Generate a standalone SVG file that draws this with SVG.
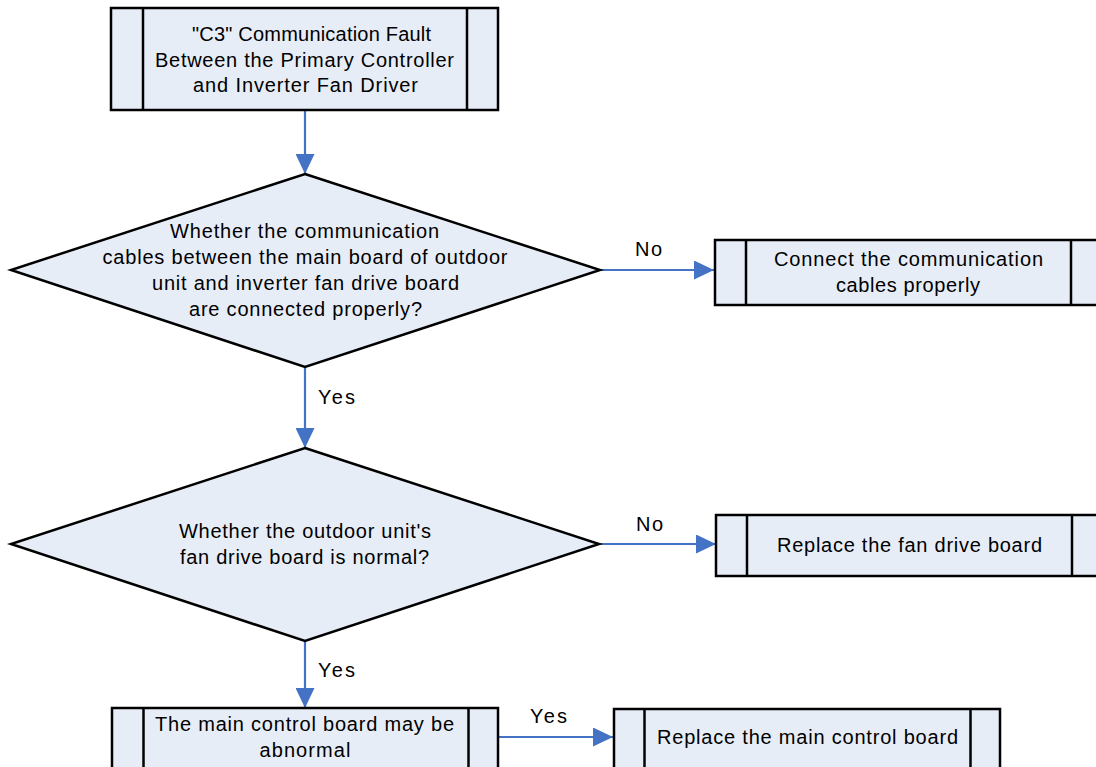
<svg xmlns="http://www.w3.org/2000/svg" width="1096" height="767" viewBox="0 0 1096 767">
<defs>
<style>
.box{fill:#E7EDF7;stroke:#000;stroke-width:2.5}
.div{stroke:#000;stroke-width:2.5}
.t{font-family:"Liberation Sans",Arial,sans-serif;font-size:20px;fill:#000;text-anchor:middle}
.l{font-family:"Liberation Sans",Arial,sans-serif;font-size:20px;fill:#000}
.c{stroke:#4472C4;stroke-width:2.2;fill:none;marker-end:url(#ah)}
</style>
<marker id="ah" markerUnits="userSpaceOnUse" markerWidth="20" markerHeight="19" refX="20" refY="9.5" orient="auto">
<path d="M0,0 L20,9.5 L0,19 Z" fill="#4472C4"/>
</marker>
</defs>
<rect width="1096" height="767" fill="#fff"/>
<g id="connectors">
<line class="c" x1="305" y1="110" x2="305" y2="174"/>
<line class="c" x1="600" y1="270" x2="714" y2="270"/>
<line class="c" x1="305" y1="367" x2="305" y2="448"/>
<line class="c" x1="599" y1="544" x2="716" y2="544"/>
<line class="c" x1="305" y1="641" x2="305" y2="708"/>
<line class="c" x1="498" y1="737" x2="613" y2="737"/>
<text class="l" x="635" y="256" textLength="27" lengthAdjust="spacing">No</text>
<text class="l" x="636" y="531" textLength="27" lengthAdjust="spacing">No</text>
<text class="l" x="318" y="404" textLength="37" lengthAdjust="spacing">Yes</text>
<text class="l" x="318" y="677" textLength="37" lengthAdjust="spacing">Yes</text>
<text class="l" x="530" y="723" textLength="37" lengthAdjust="spacing">Yes</text>
</g>
<g id="start">
<rect class="box" x="111" y="8" width="387" height="102"/>
<line class="div" x1="143" y1="8" x2="143" y2="110"/>
<line class="div" x1="467" y1="8" x2="467" y2="110"/>
<text class="t" x="311.5" y="41" textLength="239" lengthAdjust="spacing">"C3" Communication Fault</text>
<text class="t" x="304.5" y="67" textLength="299" lengthAdjust="spacing">Between the Primary Controller</text>
<text class="t" x="305.5" y="92" textLength="225" lengthAdjust="spacing">and Inverter Fan Driver</text>
</g>
<g id="decision1">
<polygon class="box" points="305,174 600,270 305,367 11,270"/>
<text class="t" x="304.5" y="238" textLength="269" lengthAdjust="spacing">Whether the communication</text>
<text class="t" x="305" y="264" textLength="405" lengthAdjust="spacing">cables between the main board of outdoor</text>
<text class="t" x="305.5" y="290" textLength="307" lengthAdjust="spacing">unit and inverter fan drive board</text>
<text class="t" x="305.5" y="316" textLength="233" lengthAdjust="spacing">are connected properly?</text>
</g>
<g id="connect-cables">
<rect class="box" x="715" y="240" width="390" height="65"/>
<line class="div" x1="746" y1="240" x2="746" y2="305"/>
<line class="div" x1="1071" y1="240" x2="1071" y2="305"/>
<text class="t" x="908.5" y="266" textLength="269" lengthAdjust="spacing">Connect the communication</text>
<text class="t" x="908" y="292" textLength="144" lengthAdjust="spacing">cables properly</text>
</g>
<g id="decision2">
<polygon class="box" points="305,448 599,544 305,641 11,544"/>
<text class="t" x="305" y="538" textLength="252" lengthAdjust="spacing">Whether the outdoor unit's</text>
<text class="t" x="304.5" y="564" textLength="249" lengthAdjust="spacing">fan drive board is normal?</text>
</g>
<g id="replace-fan">
<rect class="box" x="716" y="515" width="390" height="61"/>
<line class="div" x1="747" y1="515" x2="747" y2="576"/>
<line class="div" x1="1072" y1="515" x2="1072" y2="576"/>
<text class="t" x="909.5" y="552" textLength="265" lengthAdjust="spacing">Replace the fan drive board</text>
</g>
<g id="main-abnormal">
<rect class="box" x="112" y="708" width="386" height="64"/>
<line class="div" x1="143.5" y1="708" x2="143.5" y2="772"/>
<line class="div" x1="468.5" y1="708" x2="468.5" y2="772"/>
<text class="t" x="304.5" y="731" textLength="299" lengthAdjust="spacing">The main control board may be</text>
<text class="t" x="305" y="757" textLength="91" lengthAdjust="spacing">abnormal</text>
</g>
<g id="replace-main">
<rect class="box" x="614" y="709" width="386" height="64"/>
<line class="div" x1="644.5" y1="709" x2="644.5" y2="773"/>
<line class="div" x1="970.5" y1="709" x2="970.5" y2="773"/>
<text class="t" x="807.5" y="744" textLength="301" lengthAdjust="spacing">Replace the main control board</text>
</g>
</svg>
